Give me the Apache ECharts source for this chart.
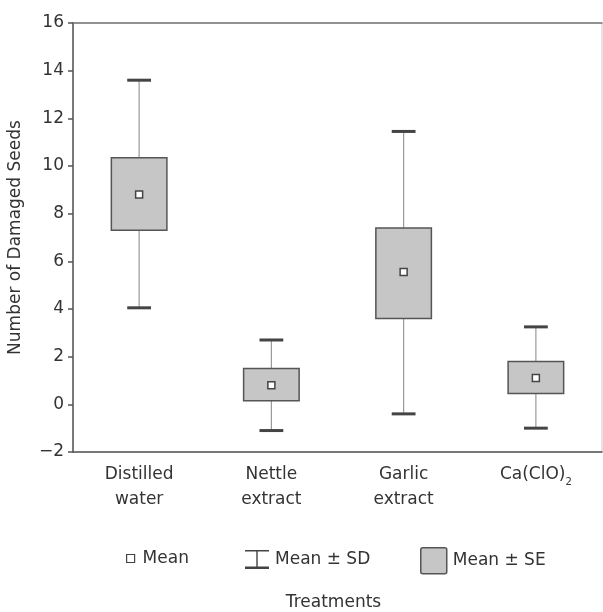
<!DOCTYPE html>
<html>
<head>
<meta charset="utf-8">
<script src="https://cdn.jsdelivr.net/npm/echarts@6/dist/echarts.min.js"></script>
<style>
  html, body { margin: 0; padding: 0; background: #fff; }
  #main { width: 603px; height: 612px; }
</style>
</head>
<body>
<div id="main"></div>
<script>
// treatments on the x axis
const categories = ['Distilled\nwater', 'Nettle\nextract', 'Garlic\nextract', 'Ca(ClO){sub|2}'];
// mean values
const means = [8.8, 0.8, 5.55, 1.1];
// mean - SD / mean + SD (whisker ends)
const sdLow = [4.05, -1.1, -0.4, -1.0];
const sdHigh = [13.6, 2.7, 11.45, 3.25];
// mean - SE / mean + SE (box ends)
const seLow = [7.3, 0.15, 3.6, 0.45];
const seHigh = [10.35, 1.5, 7.4, 1.8];

const font = 'DejaVu Sans';
const textColor = '#333';
const lineColor = '#555';
const fs = 17;

const sdData = categories.map((c, i) => [i, sdLow[i], sdHigh[i]]);
const seData = categories.map((c, i) => [i, seLow[i], seHigh[i]]);
const meanData = categories.map((c, i) => [i, means[i]]);

const chart = echarts.init(document.getElementById('main'));

const option = {
  animation: false,
  textStyle: { fontFamily: font, color: textColor },
  grid: {
    left: 73, top: 23, right: 1, bottom: 160,
    outerBoundsMode: 'none',
    show: true, borderColor: '#c8c8c8', borderWidth: 1
  },
  legend: [
    {
      data: [{ name: 'Mean', icon: 'rect' }],
      left: 121, top: 545, itemWidth: 8, itemHeight: 8, itemGap: 0,
      textStyle: { fontFamily: font, fontSize: fs, color: textColor, padding: [0, 0, 0, 3] },
      itemStyle: { color: '#fff', borderColor: '#444', borderWidth: 1.2 }
    },
    {
      data: [{ name: 'Mean ± SD', icon: 'path://M0,0 L24,0 L24,1.5 L12.7,1.5 L12.7,16.5 L24,16.5 L24,19 L0,19 L0,16.5 L11.3,16.5 L11.3,1.5 L0,1.5 Z' }],
      left: 240, top: 545, itemWidth: 24, itemHeight: 19, itemGap: 0,
      textStyle: { fontFamily: font, fontSize: fs, color: textColor, padding: [0, 0, 0, 1] },
      itemStyle: { color: '#444', borderWidth: 0 }
    },
    {
      data: [{ name: 'Mean ± SE', icon: 'path://M2,0 L24,0 Q26,0 26,2 L26,24 Q26,26 24,26 L2,26 Q0,26 0,24 L0,2 Q0,0 2,0 Z' }],
      left: 415, top: 542, itemWidth: 26, itemHeight: 26, itemGap: 0,
      textStyle: { fontFamily: font, fontSize: fs, color: textColor, padding: [0, 0, 0, 1] },
      itemStyle: { color: '#c6c6c6', borderColor: lineColor, borderWidth: 1.5 }
    }
  ],
  xAxis: [
    {
      type: 'category',
      data: categories,
      name: 'Treatments',
      nameLocation: 'middle',
      nameGap: 142,
      nameTextStyle: { fontFamily: font, fontSize: fs, color: textColor, padding: [0, 8, 0, 0] },
      axisLine: { onZero: false, lineStyle: { color: lineColor, width: 1.5 } },
      axisTick: { show: false },
      axisLabel: {
        fontFamily: font, fontSize: fs, color: textColor, margin: 10, lineHeight: 25,
        interval: 0,
        rich: { sub: { fontFamily: font, fontSize: 10, color: textColor, verticalAlign: 'bottom', padding: [9, 0, 0, 0] } }
      }
    },
    {
      type: 'category',
      data: categories,
      position: 'top',
      axisLine: { onZero: false, lineStyle: { color: '#777', width: 1.5 } },
      axisTick: { show: false },
      axisLabel: { show: false }
    }
  ],
  yAxis: {
    type: 'value',
    min: -2, max: 16, interval: 2,
    name: 'Number of Damaged Seeds',
    nameLocation: 'middle',
    nameGap: 49,
    nameTextStyle: { fontFamily: font, fontSize: fs, color: textColor },
    axisLine: { show: true, lineStyle: { color: lineColor, width: 1.5 } },
    axisTick: { show: true, length: 5, lineStyle: { color: lineColor, width: 1.5 } },
    axisLabel: {
      fontFamily: font, fontSize: fs, color: textColor, margin: 9,
      formatter: v => (v < 0 ? '\u2212' + Math.abs(v) : String(v))
    },
    splitLine: { show: false }
  },
  series: [
    {
      name: 'Mean ± SD',
      type: 'custom',
      data: sdData,
      z: 2,
      renderItem: (params, api) => {
        const x = api.value(0);
        const lo = api.coord([x, api.value(1)]);
        const hi = api.coord([x, api.value(2)]);
        const half = api.size([1, 0])[0] * 0.09;
        return {
          type: 'group',
          children: [
            { type: 'line', shape: { x1: lo[0], y1: lo[1], x2: hi[0], y2: hi[1] },
              style: { stroke: '#999', lineWidth: 1.2 } },
            { type: 'line', shape: { x1: lo[0] - half, y1: lo[1], x2: lo[0] + half, y2: lo[1] },
              style: { stroke: '#444', lineWidth: 3 } },
            { type: 'line', shape: { x1: hi[0] - half, y1: hi[1], x2: hi[0] + half, y2: hi[1] },
              style: { stroke: '#444', lineWidth: 3 } }
          ]
        };
      }
    },
    {
      name: 'Mean ± SE',
      type: 'custom',
      data: seData,
      z: 3,
      renderItem: (params, api) => {
        const x = api.value(0);
        const lo = api.coord([x, api.value(1)]);
        const hi = api.coord([x, api.value(2)]);
        const w = api.size([1, 0])[0] * 0.42;
        return {
          type: 'rect',
          shape: { x: lo[0] - w / 2, y: hi[1], width: w, height: lo[1] - hi[1] },
          style: { fill: '#c6c6c6', stroke: lineColor, lineWidth: 1.5 }
        };
      }
    },
    {
      name: 'Mean',
      type: 'scatter',
      data: meanData,
      z: 4,
      symbol: 'rect',
      symbolSize: 7,
      itemStyle: { color: '#fff', borderColor: '#444', borderWidth: 1.5, opacity: 1 }
    }
  ]
};

chart.setOption(option);
</script>
</body>
</html>
